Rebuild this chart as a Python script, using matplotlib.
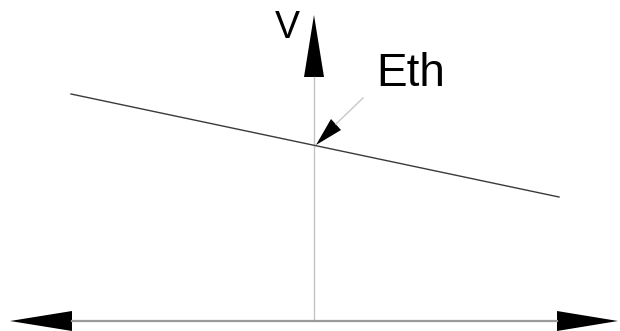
import matplotlib.pyplot as plt
from matplotlib.patches import Polygon

# threshold line (pixel-like coordinates, y grows downward)
eth_x = [71, 559]
eth_y = [94, 197]

# axes
v_axis_x = 314
h_axis_y = 321
x_left, x_right = 10, 618
v_top = 15

fig = plt.figure(figsize=(6.2, 3.31), dpi=100)
ax = fig.add_axes([0, 0, 1, 1])
ax.set_xlim(0, 620)
ax.set_ylim(331, 0)
ax.axis('off')

# vertical axis
ax.plot([v_axis_x, v_axis_x], [77, h_axis_y], color='#c4c4c4', lw=1.0)
ax.add_patch(Polygon([[v_axis_x, v_top], [v_axis_x - 10, 77], [v_axis_x + 10, 77]],
                     closed=True, color='black', lw=0))

# horizontal double arrow
ax.plot([72, 557], [h_axis_y, h_axis_y], color='#9a9a9a', lw=1.6)
ax.add_patch(Polygon([[x_left, h_axis_y], [72, h_axis_y - 10], [72, h_axis_y + 10]],
                     closed=True, color='black', lw=0))
ax.add_patch(Polygon([[x_right, h_axis_y], [557, h_axis_y - 10], [557, h_axis_y + 10]],
                     closed=True, color='black', lw=0))

# Eth line
ax.plot(eth_x, eth_y, color='#3a3a3a', lw=1.0)

# pointer to intersection
ax.plot([363, 336], [98, 124], color='#c8c8c8', lw=1.0)
ax.add_patch(Polygon([[316, 145], [331, 119], [341, 130]],
                     closed=True, color='black', lw=0))

ax.text(275, 38, 'V', fontsize=27, family='Liberation Sans', ha='left', va='baseline')
ax.text(376, 86, 'Eth', fontsize=33, family='Liberation Sans', ha='left', va='baseline')

fig.savefig('out.png', dpi=100)
